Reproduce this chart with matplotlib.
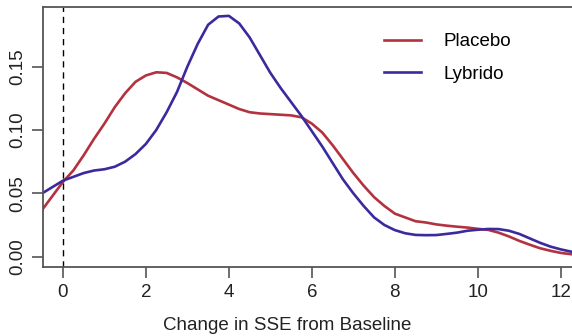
""" Density curves of change in SSE from baseline, placebo vs Lybrido. """

import matplotlib
matplotlib.use("Agg")
import matplotlib.pyplot as plt

plt.rcParams['font.family'] = ['Liberation Sans', 'DejaVu Sans']

# values, every 0.25 units
sse_change = [-0.5, -0.25, 0.0, 0.25, 0.5, 0.75, 1.0, 1.25, 1.5, 1.75,
              2.0, 2.25, 2.5, 2.75, 3.0, 3.25, 3.5, 3.75, 4.0, 4.25,
              4.5, 4.75, 5.0, 5.25, 5.5, 5.75, 6.0, 6.25, 6.5, 6.75,
              7.0, 7.25, 7.5, 7.75, 8.0, 8.25, 8.5, 8.75, 9.0, 9.25,
              9.5, 9.75, 10.0, 10.25, 10.5, 10.75, 11.0, 11.25, 11.5, 11.75,
              12.0, 12.25]

placebo = [0.037, 0.048, 0.059, 0.068, 0.080, 0.093, 0.105, 0.118, 0.129, 0.138,
           0.143, 0.1455, 0.145, 0.1415, 0.137, 0.132, 0.127, 0.1235, 0.120, 0.1165,
           0.114, 0.113, 0.1125, 0.112, 0.1115, 0.110, 0.105, 0.098, 0.088, 0.077,
           0.066, 0.056, 0.047, 0.040, 0.034, 0.031, 0.028, 0.027, 0.0255, 0.0245,
           0.0237, 0.023, 0.022, 0.0212, 0.019, 0.016, 0.0125, 0.0095, 0.0067, 0.0047,
           0.003, 0.002]

lybrido = [0.050, 0.055, 0.060, 0.063, 0.066, 0.068, 0.069, 0.071, 0.075, 0.081,
           0.089, 0.100, 0.114, 0.130, 0.150, 0.168, 0.183, 0.1895, 0.190, 0.184,
           0.173, 0.159, 0.145, 0.133, 0.122, 0.111, 0.099, 0.087, 0.074, 0.061,
           0.050, 0.040, 0.031, 0.025, 0.021, 0.0185, 0.0172, 0.017, 0.0171, 0.018,
           0.019, 0.0205, 0.0213, 0.0219, 0.0218, 0.0205, 0.018, 0.0145, 0.011, 0.008,
           0.0058, 0.004]

x_ticks = [0, 2, 4, 6, 8, 10, 12]
y_ticks = [0.00, 0.05, 0.10, 0.15]

fig = plt.figure(figsize=(5.72, 3.36), dpi=100)
ax = fig.add_axes([43 / 572, 1 - 267 / 336, 1 - 43 / 572, (267 - 7) / 336])

ax.plot(sse_change, placebo, color='#b3323f', lw=1.9, label='Placebo')
ax.plot(sse_change, lybrido, color='#3b2a9e', lw=1.9, label='Lybrido')
ax.axvline(0, color='black', lw=1.0, linestyle=(0, (4.5, 3.5)))

ax.set_xlim(-0.48, 12.27)
ax.set_ylim(-0.0081, 0.197)
ax.set_xticks(x_ticks)
ax.set_yticks(y_ticks)
ax.set_yticklabels([f"{v:.2f}" for v in y_ticks], rotation=90, va='center')

for side in ['left', 'bottom', 'top']:
    ax.spines[side].set_color('#555555')
    ax.spines[side].set_linewidth(1.3)
ax.spines['right'].set_visible(False)
ax.tick_params(direction='out', length=8, width=1.2, color='#555555',
               labelsize=13.5, pad=4, labelcolor='#222222')

ax.set_xlabel('Change in SSE from Baseline', fontsize=13.5, color='#222222')
# label sits left of the axes centre in the reference
ax.xaxis.set_label_coords((287 - 43) / 529, -(325 - 267) / 260)
ax.xaxis.label.set_va('center')

ax.legend(loc='upper left', bbox_to_anchor=(0.612, 0.965), frameon=False,
          fontsize=13.5, handlelength=2.0, handletextpad=1.2, labelspacing=0.82)

fig.savefig('out.png', dpi=100)
